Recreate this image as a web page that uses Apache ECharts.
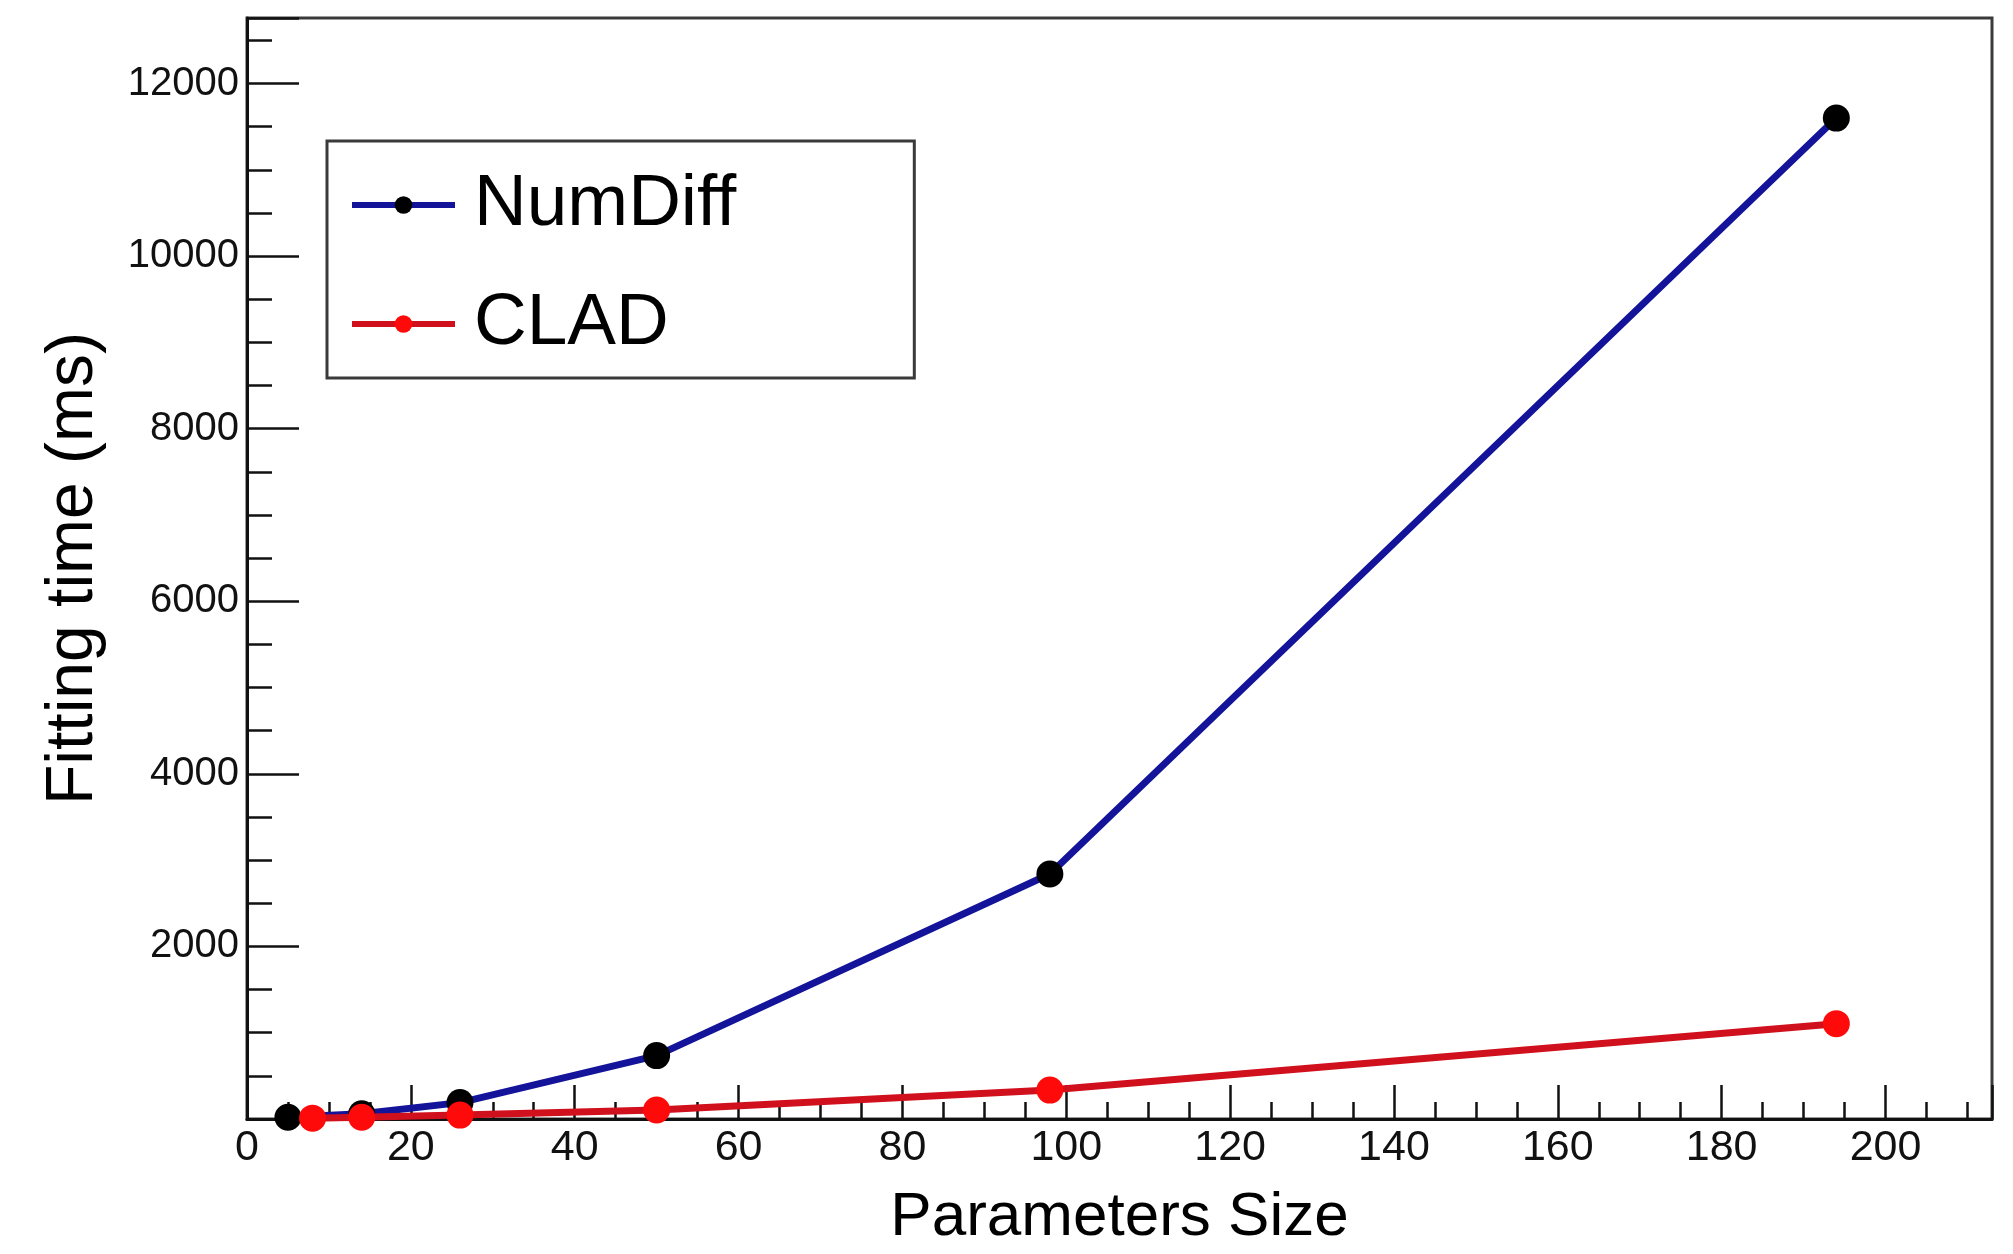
<!DOCTYPE html>
<html>
<head>
<meta charset="utf-8">
<script src="https://cdn.jsdelivr.net/npm/echarts@6/dist/echarts.min.js"></script>
<style>
html,body{margin:0;padding:0;background:#fff;}
#chart{width:2013px;height:1254px;}
</style>
</head>
<body>
<div id="chart"></div>
<script>
// Data
const numDiffX = [5, 14, 26, 50, 98, 194];
const numDiffY = [20, 60, 190, 735, 2840, 11600];
const cladX = [8, 14, 26, 50, 98, 194];
const cladY = [10, 20, 45, 105, 335, 1105];
const seriesNames = ['NumDiff', 'CLAD'];
const xTitle = 'Parameters Size';
const yTitle = 'Fitting time (ms)';

const FONT = '"Liberation Sans", Arial, Helvetica, sans-serif';
const chart = echarts.init(document.getElementById('chart'), null, {renderer: 'canvas'});

function pairs(xs, ys) { return xs.map((x, i) => [x, ys[i]]); }

const X_MAX = 213, Y_MAX = 12760;

chart.setOption({
  animation: false,
  backgroundColor: '#ffffff',
  grid: {
    left: 247, right: 21, top: 18, bottom: 120,
    show: true, borderColor: '#3a3a3a', borderWidth: 3, backgroundColor: 'transparent'
  },
  legend: {
    left: 327, top: 141,
    orient: 'vertical',
    data: seriesNames,
    itemWidth: 103, itemHeight: 22,
    itemGap: 45,
    padding: [27, 178, 17, 22],
    borderColor: '#3a3a3a', borderWidth: 3,
    backgroundColor: '#fff',
    lineStyle: {width: 6},
    textStyle: {fontFamily: FONT, fontSize: 73, color: '#000', padding: [0, 0, 0, 14], lineHeight: 74}
  },
  xAxis: [
    {
      type: 'value', min: 0, max: X_MAX, interval: 20, position: 'bottom',
      name: xTitle, nameLocation: 'middle', nameGap: 68,
      nameTextStyle: {fontFamily: FONT, fontSize: 62, color: '#000'},
      axisLine: {show: true, lineStyle: {color: '#111', width: 3}},
      axisTick: {show: true, inside: true, length: 34, lineStyle: {color: '#111', width: 2.5}},
      axisLabel: {fontFamily: FONT, fontSize: 43, color: '#111', margin: 8,
        formatter: v => (v % 20 === 0 ? String(v) : '')},
      splitLine: {show: false}
    },
    {
      type: 'value', min: 0, max: X_MAX, interval: 5, position: 'bottom', offset: 0,
      axisLine: {show: false},
      axisTick: {show: true, inside: true, length: 17, lineStyle: {color: '#111', width: 2.5}},
      axisLabel: {show: false},
      splitLine: {show: false}
    }
  ],
  yAxis: [
    {
      type: 'value', min: 0, max: Y_MAX, interval: 2000, position: 'left',
      name: yTitle, nameLocation: 'middle', nameGap: 140,
      nameTextStyle: {fontFamily: FONT, fontSize: 66, color: '#000'},
      axisLine: {show: true, lineStyle: {color: '#111', width: 3}},
      axisTick: {show: true, inside: true, length: 52, lineStyle: {color: '#111', width: 2.5}},
      axisLabel: {fontFamily: FONT, fontSize: 40, color: '#111', margin: 8,
        formatter: v => (v % 2000 === 0 && v > 0 ? String(v) : '')},
      splitLine: {show: false}
    },
    {
      type: 'value', min: 0, max: Y_MAX, interval: 500, position: 'left', offset: 0,
      axisLine: {show: false},
      axisTick: {show: true, inside: true, length: 25, lineStyle: {color: '#111', width: 2.5}},
      axisLabel: {show: false},
      splitLine: {show: false}
    }
  ],
  series: [
    {
      name: seriesNames[0], type: 'line', xAxisIndex: 0, yAxisIndex: 0,
      data: pairs(numDiffX, numDiffY),
      symbol: 'circle', symbolSize: 27,
      lineStyle: {color: '#14149a', width: 7},
      itemStyle: {color: '#000000'},
      z: 3
    },
    {
      name: seriesNames[1], type: 'line', xAxisIndex: 0, yAxisIndex: 0,
      data: pairs(cladX, cladY),
      symbol: 'circle', symbolSize: 27,
      lineStyle: {color: '#d0101c', width: 7},
      itemStyle: {color: '#ff0a0a'},
      z: 4
    }
  ]
});
</script>
</body>
</html>
